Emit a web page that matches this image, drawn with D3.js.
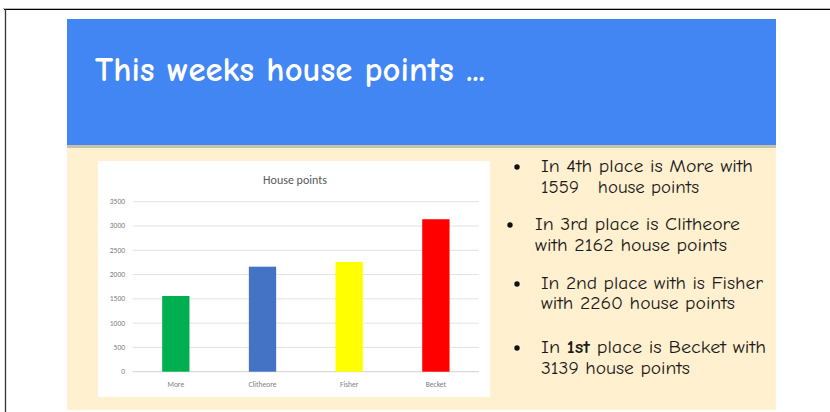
<!DOCTYPE html>
<html>
<head>
<meta charset="utf-8">
<script src="https://cdn.jsdelivr.net/npm/d3@7"></script>
<style>
  html, body { margin: 0; padding: 0; background: #fff; }
  svg { display: block; }
</style>
</head>
<body>
<svg id="chart" width="830" height="412"></svg>
<script>
const slideTitle = "This weeks house points ...";
const chartTitle = "House points";
const houses = ["More", "Clitheore", "Fisher", "Becket"];
const points = [1559, 2162, 2260, 3139];
const barColors = ["#00b050", "#4472c4", "#ffff00", "#ff0000"];
const yTicks = [0, 500, 1000, 1500, 2000, 2500, 3000, 3500];
const bulletLines = [
  [[{t: "In 4th place is More with"}], [{t: "1559\u00a0\u00a0 house points"}]],
  [[{t: "In 3rd place is Clitheore"}], [{t: "with 2162 house points"}]],
  [[{t: "In 2nd place with is Fisher"}], [{t: "with 2260 house points"}]],
  [[{t: "In "}, {t: "1st", b: true}, {t: " place is Becket with"}], [{t: "3139 house points"}]]
];

const svg = d3.select("#chart");
const comic = "'Comic Sans MS', 'Comic Neue', 'DejaVu Sans', sans-serif";

// page frame
svg.append("line").attr("x1", 3).attr("x2", 830).attr("y1", 8.5).attr("y2", 8.5).attr("stroke", "#bbb").attr("stroke-width", 1);
svg.append("line").attr("x1", 4).attr("x2", 830).attr("y1", 9.5).attr("y2", 9.5).attr("stroke", "#000").attr("stroke-width", 1.2);
svg.append("line").attr("x1", 5.5).attr("x2", 5.5).attr("y1", 9).attr("y2", 412).attr("stroke", "#333").attr("stroke-width", 1.3);

// slide
svg.append("rect").attr("x", 67).attr("y", 148).attr("width", 709).attr("height", 262).attr("fill", "#fff0cf");
svg.append("rect").attr("x", 67).attr("y", 145).attr("width", 709).attr("height", 3).attr("fill", "#c9c0a8");
svg.append("rect").attr("x", 67).attr("y", 19).attr("width", 709).attr("height", 126).attr("fill", "#4286f4");

svg.append("text").attr("x", 95).attr("y", 81)
  .attr("font-family", comic).attr("font-size", 34).attr("font-weight", "bold").attr("fill", "#fff")
  .attr("textLength", 390).attr("lengthAdjust", "spacingAndGlyphs")
  .text(slideTitle);

// chart box
svg.append("rect").attr("x", 98).attr("y", 161).attr("width", 392).attr("height", 236).attr("fill", "#fff");

svg.append("text").attr("x", 295).attr("y", 184).attr("text-anchor", "middle")
  .attr("font-family", "Calibri, Carlito, 'Liberation Sans', sans-serif").attr("font-size", 12).attr("fill", "#595959")
  .text(chartTitle);

const x = d3.scaleBand().domain(houses).range([132.7, 479]).paddingInner(0.685).paddingOuter(0.34);
const y = d3.scaleLinear().domain([0, 3500]).range([371.7, 201.7]);

const g = svg.append("g");
g.selectAll("line.grid").data(yTicks).join("line")
  .attr("x1", 132.7).attr("x2", 479)
  .attr("y1", d => y(d)).attr("y2", d => y(d))
  .attr("stroke", d => d === 0 ? "#d0d0d0" : "#e2e2e2").attr("stroke-width", 1);

g.selectAll("text.yt").data(yTicks).join("text")
  .attr("x", 125).attr("y", d => y(d) + 2.5).attr("text-anchor", "end")
  .attr("font-family", "Calibri, Carlito, 'Liberation Sans', sans-serif").attr("font-size", 7.5).attr("fill", "#808080")
  .text(d => d);

g.selectAll("rect.bar").data(points).join("rect")
  .attr("x", (d, i) => x(houses[i])).attr("width", x.bandwidth())
  .attr("y", d => y(d)).attr("height", d => y(0) - y(d))
  .attr("fill", (d, i) => barColors[i]);

g.selectAll("text.xt").data(houses).join("text")
  .attr("x", d => x(d) + x.bandwidth() / 2).attr("y", 387).attr("text-anchor", "middle")
  .attr("font-family", "Calibri, Carlito, 'Liberation Sans', sans-serif").attr("font-size", 7.5).attr("fill", "#808080")
  .text(d => d);

// bullets
const bulletPos = [
  {dx: 517, tx: 541, y1: 172, y2: 193, w: [212, 158]},
  {dx: 510, tx: 535, y1: 230, y2: 251, w: [205, 192]},
  {dx: 517, tx: 541, y1: 289, y2: 309, w: [222, 194]},
  {dx: 517, tx: 541, y1: 353, y2: 374, w: [225, 149]}
];
bulletLines.forEach((lines, i) => {
  const p = bulletPos[i];
  svg.append("circle").attr("cx", p.dx).attr("cy", p.y1 - 5).attr("r", 2.7).attr("fill", "#111");
  [p.y1, p.y2].forEach((yy, j) => {
    const t = svg.append("text").attr("x", p.tx).attr("y", yy)
      .attr("font-family", comic).attr("font-size", 18).attr("fill", "#1a1a1a")
      .attr("textLength", p.w[j]).attr("lengthAdjust", "spacingAndGlyphs");
    lines[j].forEach(seg => {
      t.append("tspan").attr("font-weight", seg.b ? "bold" : "normal").text(seg.t);
    });
  });
});
</script>
</body>
</html>
